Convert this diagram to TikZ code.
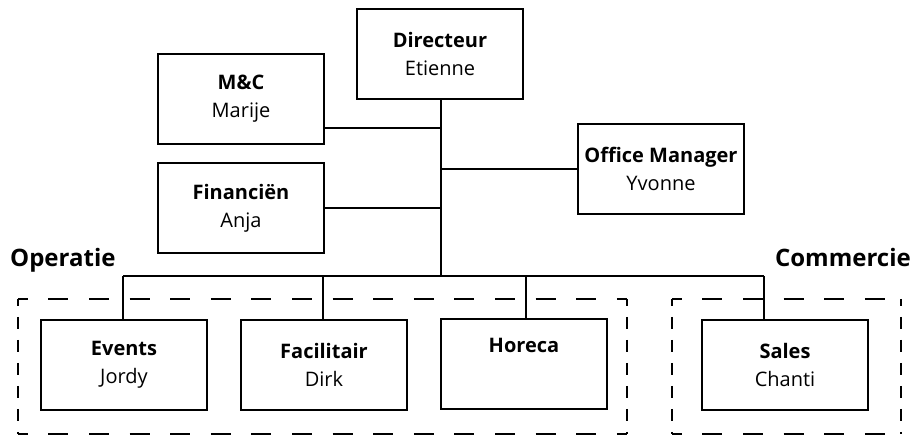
\documentclass[tikz,border=0pt]{standalone}
\usepackage{fontspec}
\setmainfont{Open Sans}
\begin{document}
\begin{tikzpicture}[x=1pt,y=-1pt,
  box/.style={draw, line width=2pt, minimum width=166pt, minimum height=90pt, align=center, inner sep=0pt, font=\fontsize{20}{28}\selectfont},
  conn/.style={line width=2pt},
  grp/.style={inner sep=0pt, font=\fontsize{24}{27}\selectfont\bfseries},
  hdash/.style={line width=2pt, dash pattern=on 20pt off 20.6pt, dash phase=10pt},
  vdash/.style={line width=2pt, dash pattern=on 12pt off 11pt, dash phase=5pt}]
\useasboundingbox (0,0) rectangle (912,434);
% nodes
\node[box] (dir) at (440,54) {\textbf{Directeur}\\Etienne};
\node[box] (mc) at (241,99) {\textbf{M\&C}\\Marije};
\node[box] (fin) at (241,208) {\textbf{Financiën}\\Anja};
\node[box] (om) at (661,169) {\textbf{Office Manager}\\Yvonne};
\node[box] (ev) at (124,365) {\textbf{Events}\\Jordy};
\node[box] (fac) at (324,365) {\textbf{Facilitair}\\Dirk};
\node[box] (hor) at (524,364) {\textbf{Horeca}\\\strut};
\node[box] (sal) at (785,365) {\textbf{Sales}\\Chanti};
% group labels
\node[grp, anchor=base west] (oplab) at (10,266) {Operatie};
\node[grp, anchor=base east] (comlab) at (911,266) {Commercie};
% group frames
\node[minimum width=609pt, minimum height=135pt, inner sep=0pt] (opg) at (322.5,366.5) {};
\node[minimum width=229pt, minimum height=135pt, inner sep=0pt] (comg) at (786.5,366.5) {};
\foreach \g in {opg,comg}{
  \draw[hdash] (\g.north west) -- (\g.north east);
  \draw[hdash] (\g.south west) -- (\g.south east);
  \draw[vdash] (\g.north west) -- (\g.south west);
  \draw[vdash] (\g.north east) -- (\g.south east);
}
% connectors
\coordinate (trunk) at (441,276);
\coordinate (tmc) at (441,128);
\coordinate (evdrop) at (123,276);
\coordinate (facdrop) at (323,276);
\coordinate (hordrop) at (526,276);
\coordinate (saldrop) at (764,276);
\draw[conn] (dir.south -| trunk) -- (trunk);
\draw[conn] (tmc -| mc.east) -- (tmc);
\draw[conn] (fin.east) -- (fin.east -| trunk);
\draw[conn] (om.west) -- (om.west -| trunk);
\draw[conn] (evdrop) -- (saldrop);
\draw[conn] (evdrop) -- (evdrop |- ev.north);
\draw[conn] (facdrop) -- (facdrop |- fac.north);
\draw[conn] (hordrop) -- (hordrop |- hor.north);
\draw[conn] (saldrop) -- (saldrop |- sal.north);
\end{tikzpicture}
\end{document}
